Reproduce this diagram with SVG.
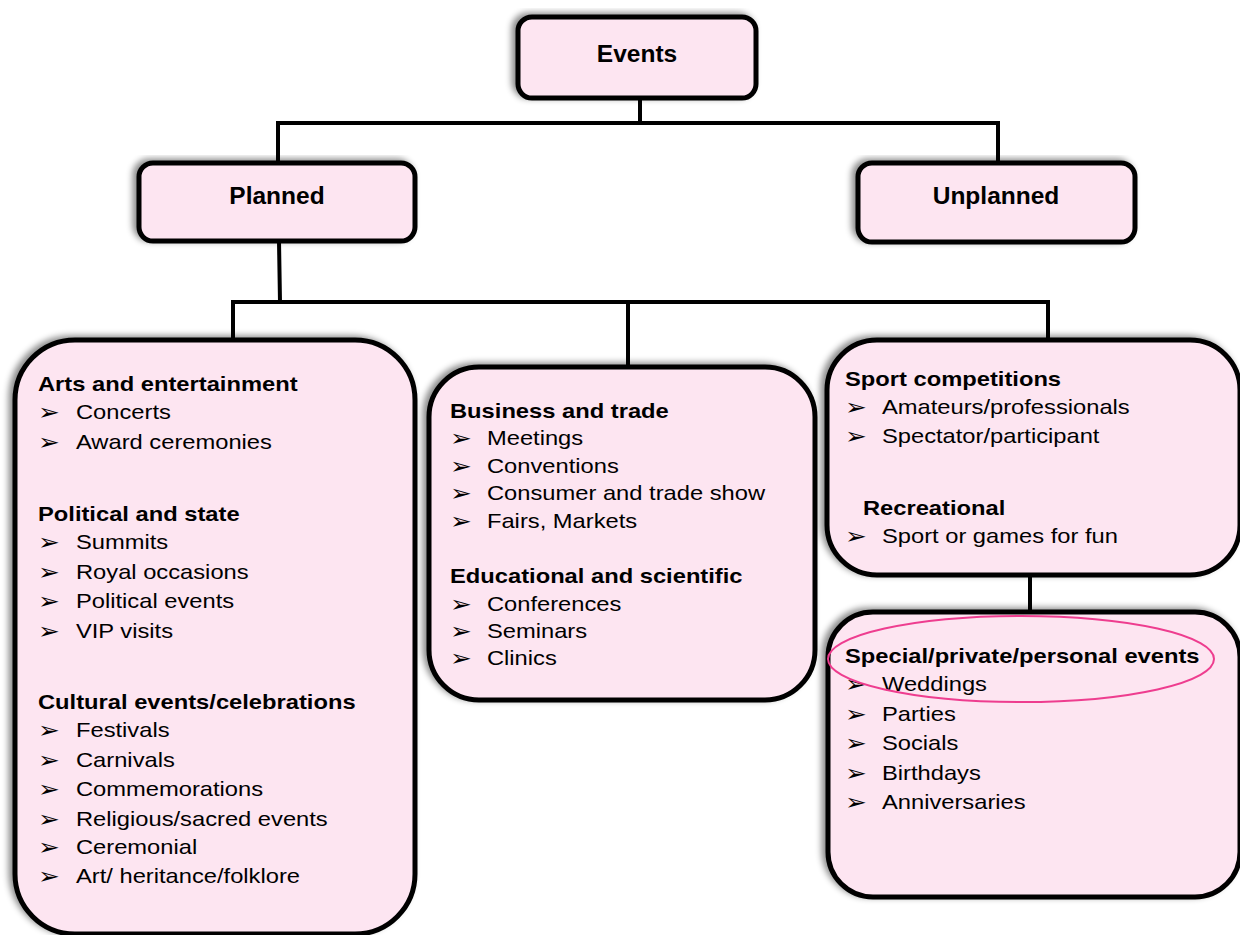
<svg xmlns="http://www.w3.org/2000/svg" width="1240" height="935" viewBox="0 0 1240 935">
  <defs>
    <filter id="shadow" x="-10%" y="-10%" width="120%" height="120%">
      <feDropShadow dx="-4" dy="-2" stdDeviation="3" flood-color="#000" flood-opacity="0.45"/>
    </filter>
    <style>
      .box { fill: #fde5f1; stroke: #000; stroke-width: 5; filter: url(#shadow); }
      .wire { fill: none; stroke: #000; stroke-width: 4; stroke-linecap: square; }
      .title { font-family: "Liberation Sans", Arial, sans-serif; font-size: 24.5px; font-weight: bold; fill: #000; text-anchor: middle; }
      .head { font-family: "Liberation Sans", Arial, sans-serif; font-size: 21px; font-weight: bold; fill: #000; }
      .item { font-family: "Liberation Sans", Arial, sans-serif; font-size: 21px; fill: #000; }
      .bul { font-family: "DejaVu Sans", sans-serif; font-size: 23px; fill: #000; }
    </style>
  </defs>
  <rect width="1240" height="935" fill="#fff"/>

  <!-- connectors -->
  <g id="connectors">
    <path class="wire" d="M640 98 V123 M278 123 H998 M278 123 V163 M998 123 V163"/>
    <path class="wire" d="M279 241 L280 302 M233 302 H1048 M233 302 V340 M628 302 V367 M1048 302 V340"/>
    <path class="wire" d="M1030 575 V612"/>
  </g>

  <g id="events">
    <rect class="box" x="518" y="17" width="238" height="81" rx="14"/>
    <text class="title" x="637" y="62">Events</text>
  </g>

  <g id="planned">
    <rect class="box" x="139" y="163" width="276" height="78" rx="14"/>
    <text class="title" x="277" y="204">Planned</text>
  </g>

  <g id="unplanned">
    <rect class="box" x="858" y="163" width="277" height="79" rx="14"/>
    <text class="title" x="996" y="204">Unplanned</text>
  </g>

  <g id="arts-political-cultural">
    <rect class="box" x="15" y="340" width="400" height="594" rx="60"/>
    <g transform="translate(38,0) scale(1.13,1)">
      <text class="head" x="0" y="391">Arts and entertainment</text>
      <text class="bul" x="0" y="420">➢</text><text class="item" x="33.6" y="419">Concerts</text>
      <text class="bul" x="0" y="450">➢</text><text class="item" x="33.6" y="449">Award ceremonies</text>
      <text class="head" x="0" y="521">Political and state</text>
      <text class="bul" x="0" y="550">➢</text><text class="item" x="33.6" y="549">Summits</text>
      <text class="bul" x="0" y="580">➢</text><text class="item" x="33.6" y="579">Royal occasions</text>
      <text class="bul" x="0" y="609">➢</text><text class="item" x="33.6" y="608">Political events</text>
      <text class="bul" x="0" y="639">➢</text><text class="item" x="33.6" y="638">VIP visits</text>
      <text class="head" x="0" y="709">Cultural events/celebrations</text>
      <text class="bul" x="0" y="738">➢</text><text class="item" x="33.6" y="737">Festivals</text>
      <text class="bul" x="0" y="768">➢</text><text class="item" x="33.6" y="767">Carnivals</text>
      <text class="bul" x="0" y="797">➢</text><text class="item" x="33.6" y="796">Commemorations</text>
      <text class="bul" x="0" y="827">➢</text><text class="item" x="33.6" y="826">Religious/sacred events</text>
      <text class="bul" x="0" y="855">➢</text><text class="item" x="33.6" y="854">Ceremonial</text>
      <text class="bul" x="0" y="884">➢</text><text class="item" x="33.6" y="883">Art/ heritance/folklore</text>
    </g>
  </g>

  <g id="business-educational">
    <rect class="box" x="429" y="367" width="386" height="333" rx="50"/>
    <g transform="translate(450,0) scale(1.13,1)">
      <text class="head" x="0" y="418">Business and trade</text>
      <text class="bul" x="0" y="446">➢</text><text class="item" x="32.7" y="445">Meetings</text>
      <text class="bul" x="0" y="474">➢</text><text class="item" x="32.7" y="473">Conventions</text>
      <text class="bul" x="0" y="501">➢</text><text class="item" x="32.7" y="500">Consumer and trade show</text>
      <text class="bul" x="0" y="529">➢</text><text class="item" x="32.7" y="528">Fairs, Markets</text>
      <text class="head" x="0" y="583">Educational and scientific</text>
      <text class="bul" x="0" y="612">➢</text><text class="item" x="32.7" y="611">Conferences</text>
      <text class="bul" x="0" y="639">➢</text><text class="item" x="32.7" y="638">Seminars</text>
      <text class="bul" x="0" y="666">➢</text><text class="item" x="32.7" y="665">Clinics</text>
    </g>
  </g>

  <g id="sport-recreational">
    <rect class="box" x="827" y="340" width="413" height="235" rx="50"/>
    <g transform="translate(845,0) scale(1.13,1)">
      <text class="head" x="0" y="386">Sport competitions</text>
      <text class="bul" x="0" y="415">➢</text><text class="item" x="32.7" y="414">Amateurs/professionals</text>
      <text class="bul" x="0" y="444">➢</text><text class="item" x="32.7" y="443">Spectator/participant</text>
      <text class="head" x="15.9" y="515">Recreational</text>
      <text class="bul" x="0" y="544">➢</text><text class="item" x="32.7" y="543">Sport or games for fun</text>
    </g>
  </g>

  <g id="special-private">
    <rect class="box" x="828" y="612" width="412" height="285" rx="45"/>
    <g transform="translate(845,0) scale(1.13,1)">
      <text class="head" x="0" y="663">Special/private/personal events</text>
      <text class="bul" x="0" y="692">➢</text><text class="item" x="32.7" y="691">Weddings</text>
      <text class="bul" x="0" y="722">➢</text><text class="item" x="32.7" y="721">Parties</text>
      <text class="bul" x="0" y="751">➢</text><text class="item" x="32.7" y="750">Socials</text>
      <text class="bul" x="0" y="781">➢</text><text class="item" x="32.7" y="780">Birthdays</text>
      <text class="bul" x="0" y="810">➢</text><text class="item" x="32.7" y="809">Anniversaries</text>
    </g>
    <ellipse cx="1021" cy="659" rx="193" ry="43" fill="none" stroke="#ee3d8f" stroke-width="2"/>
  </g>
</svg>
